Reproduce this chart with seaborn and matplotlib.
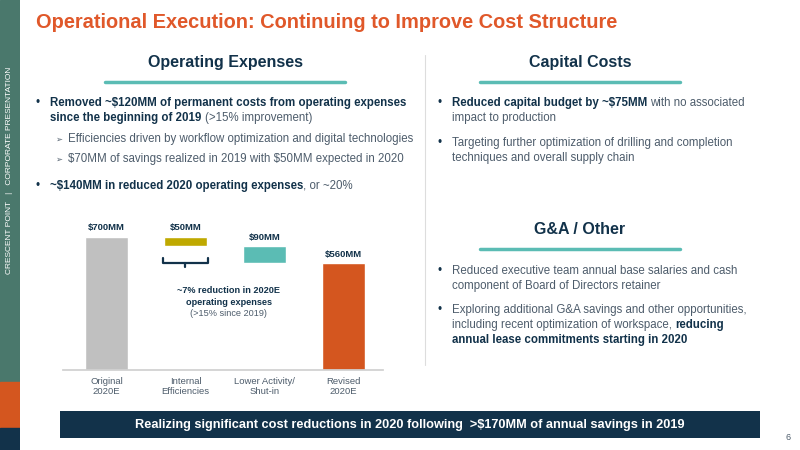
import matplotlib
matplotlib.use("Agg")
import matplotlib.pyplot as plt
import matplotlib.patches as mpatches
import seaborn as sns
import pandas as pd

# chart data
steps = ["Original\n2020E", "Internal\nEfficiencies", "Lower Activity/\nShut-in", "Revised\n2020E"]
bar_top = [700, 700, 650, 560]
bar_bottom = [0, 650, 560, 0]
bar_labels = ["$700MM", "$50MM", "$90MM", "$560MM"]
bar_colors = ["#c0c0c0", "#bfa900", "#5bbcb4", "#d4561f"]

NAVY = "#12324a"
ORANGE = "#e0582a"
TEAL = "#5bbcb4"
GREY = "#4d5c6b"

sns.set_theme(style="white")
plt.rcParams["font.family"] = ["Liberation Sans", "DejaVu Sans"]
plt.rcParams["text.parse_math"] = False

fig = plt.figure(figsize=(8, 4.5), dpi=100)
W, H = 800, 450
renderer = fig.canvas.get_renderer()


def px(x, y):
    return x / W, 1 - y / H


def txt(x, y, s, **kw):
    return fig.text(*px(x, y), s, **kw)


def line(x, y, parts, fs=8.3):
    # parts: list of (text, bold)
    for s, bold in parts:
        t = txt(x, y, s, color=NAVY if bold else GREY, fontsize=fs,
                fontweight="bold" if bold else "normal", va="center")
        x += t.get_window_extent(renderer).width


# side bar
side = fig.add_axes([0, 0, 20 / W, 1])
side.set_xlim(0, 1); side.set_ylim(450, 0); side.axis("off")
side.add_patch(mpatches.Rectangle((0, 0), 1, 382, color="#4a786c"))
side.add_patch(mpatches.Rectangle((0, 382), 1, 46, color="#d4561f"))
side.add_patch(mpatches.Rectangle((0, 428), 1, 22, color=NAVY))
txt(10, 170, "CRESCENT POINT   |   CORPORATE PRESENTATION", rotation=90,
    color="white", fontsize=6, ha="center", va="center")

# title
txt(36, 22, "Operational Execution: Continuing to Improve Cost Structure",
    color=ORANGE, fontsize=14.4, fontweight="bold", va="center")

# section headings
for x, y, s, x0, x1 in [(225, 63, "Operating Expenses", 105, 345),
                        (580, 63, "Capital Costs", 480, 680),
                        (580, 230, "G&A / Other", 480, 680)]:
    txt(x, y, s, color=NAVY, fontsize=11.5, fontweight="bold", ha="center", va="center")
    fig.add_artist(plt.Line2D([x0 / W, x1 / W], [1 - (y + 19) / H] * 2, color=TEAL, lw=2.5))

# divider
fig.add_artist(plt.Line2D([425 / W] * 2, [1 - 55 / H, 1 - 365 / H], color="#dddddd", lw=0.8))

for x, y in [(36, 103), (36, 186), (438, 103), (438, 143), (438, 271), (438, 310)]:
    txt(x, y, "•", color=NAVY, fontsize=8.3, va="center")
for y in [139, 159]:
    txt(55, y, "➢", color=GREY, fontsize=6, va="center", family=["DejaVu Sans"])

line(50, 103, [("Removed ~$120MM of permanent costs from operating expenses", True)])
line(50, 118, [("since the beginning of 2019 ", True), ("(>15% improvement)", False)])
line(68, 139, [("Efficiencies driven by workflow optimization and digital technologies", False)])
line(68, 159, [("$70MM of savings realized in 2019 with $50MM expected in 2020", False)])
line(50, 186, [("~$140MM in reduced 2020 operating expenses", True), (", or ~20%", False)])

line(452, 103, [("Reduced capital budget by ~$75MM ", True), ("with no associated", False)])
line(452, 118, [("impact to production", False)])
line(452, 143, [("Targeting further optimization of drilling and completion", False)])
line(452, 158, [("techniques and overall supply chain", False)])

line(452, 271, [("Reduced executive team annual base salaries and cash", False)])
line(452, 286, [("component of Board of Directors retainer", False)])
line(452, 310, [("Exploring additional G&A savings and other opportunities,", False)])
line(452, 325, [("including recent optimization of workspace, ", False), ("reducing", True)])
line(452, 340, [("annual lease commitments starting in 2020", True)])

# waterfall chart
ax = fig.add_axes([63 / W, 1 - 370 / H, 320 / W, 155 / H])
df = pd.DataFrame({"step": steps, "top": bar_top, "bottom": bar_bottom})
sns.barplot(data=df, x="step", y="top", hue="step", palette=bar_colors, width=0.55,
            legend=False, ax=ax, saturation=1)
for i, p in enumerate(ax.patches):
    p.set_y(bar_bottom[i])
    p.set_height(bar_top[i] - bar_bottom[i])
    ax.text(i, bar_top[i] + 25, bar_labels[i], ha="center", va="bottom",
            fontsize=6.8, fontweight="bold", color=NAVY)
ax.set_xlim(-0.55, 3.5)
ax.set_ylim(0, 815)
ax.set_ylabel(""); ax.set_xlabel("")
ax.set_yticks([])
ax.tick_params(axis="x", length=0, labelsize=6.8, labelcolor=GREY, pad=5)
for s in ["top", "right", "left"]:
    ax.spines[s].set_visible(False)
ax.spines["bottom"].set_color("#d0d0d0")

# brace under internal efficiencies
ax.plot([0.72, 0.72, 1.28, 1.28], [590, 565, 565, 590], color=NAVY, lw=1.6)
ax.plot([1.0, 1.0], [565, 540], color=NAVY, lw=1.6)
ax.text(1.55, 420, "~7% reduction in 2020E", ha="center", va="center",
        fontsize=6.6, fontweight="bold", color=NAVY)
ax.text(1.55, 357, "operating expenses", ha="center", va="center",
        fontsize=6.6, fontweight="bold", color=NAVY)
ax.text(1.55, 295, "(>15% since 2019)", ha="center", va="center", fontsize=6.6, color=GREY)

# bottom banner
ban = fig.add_axes([60 / W, 1 - 438 / H, 700 / W, 27 / H])
ban.set_facecolor(NAVY)
ban.set_xticks([]); ban.set_yticks([])
for s in ban.spines.values():
    s.set_visible(False)
txt(410, 425, "Realizing significant cost reductions in 2020 following  >$170MM of annual savings in 2019",
    color="white", fontsize=9.2, fontweight="bold", ha="center", va="center")
txt(788, 437, "6", color=GREY, fontsize=6.5, ha="center", va="center")

fig.savefig("out.png", dpi=100)
